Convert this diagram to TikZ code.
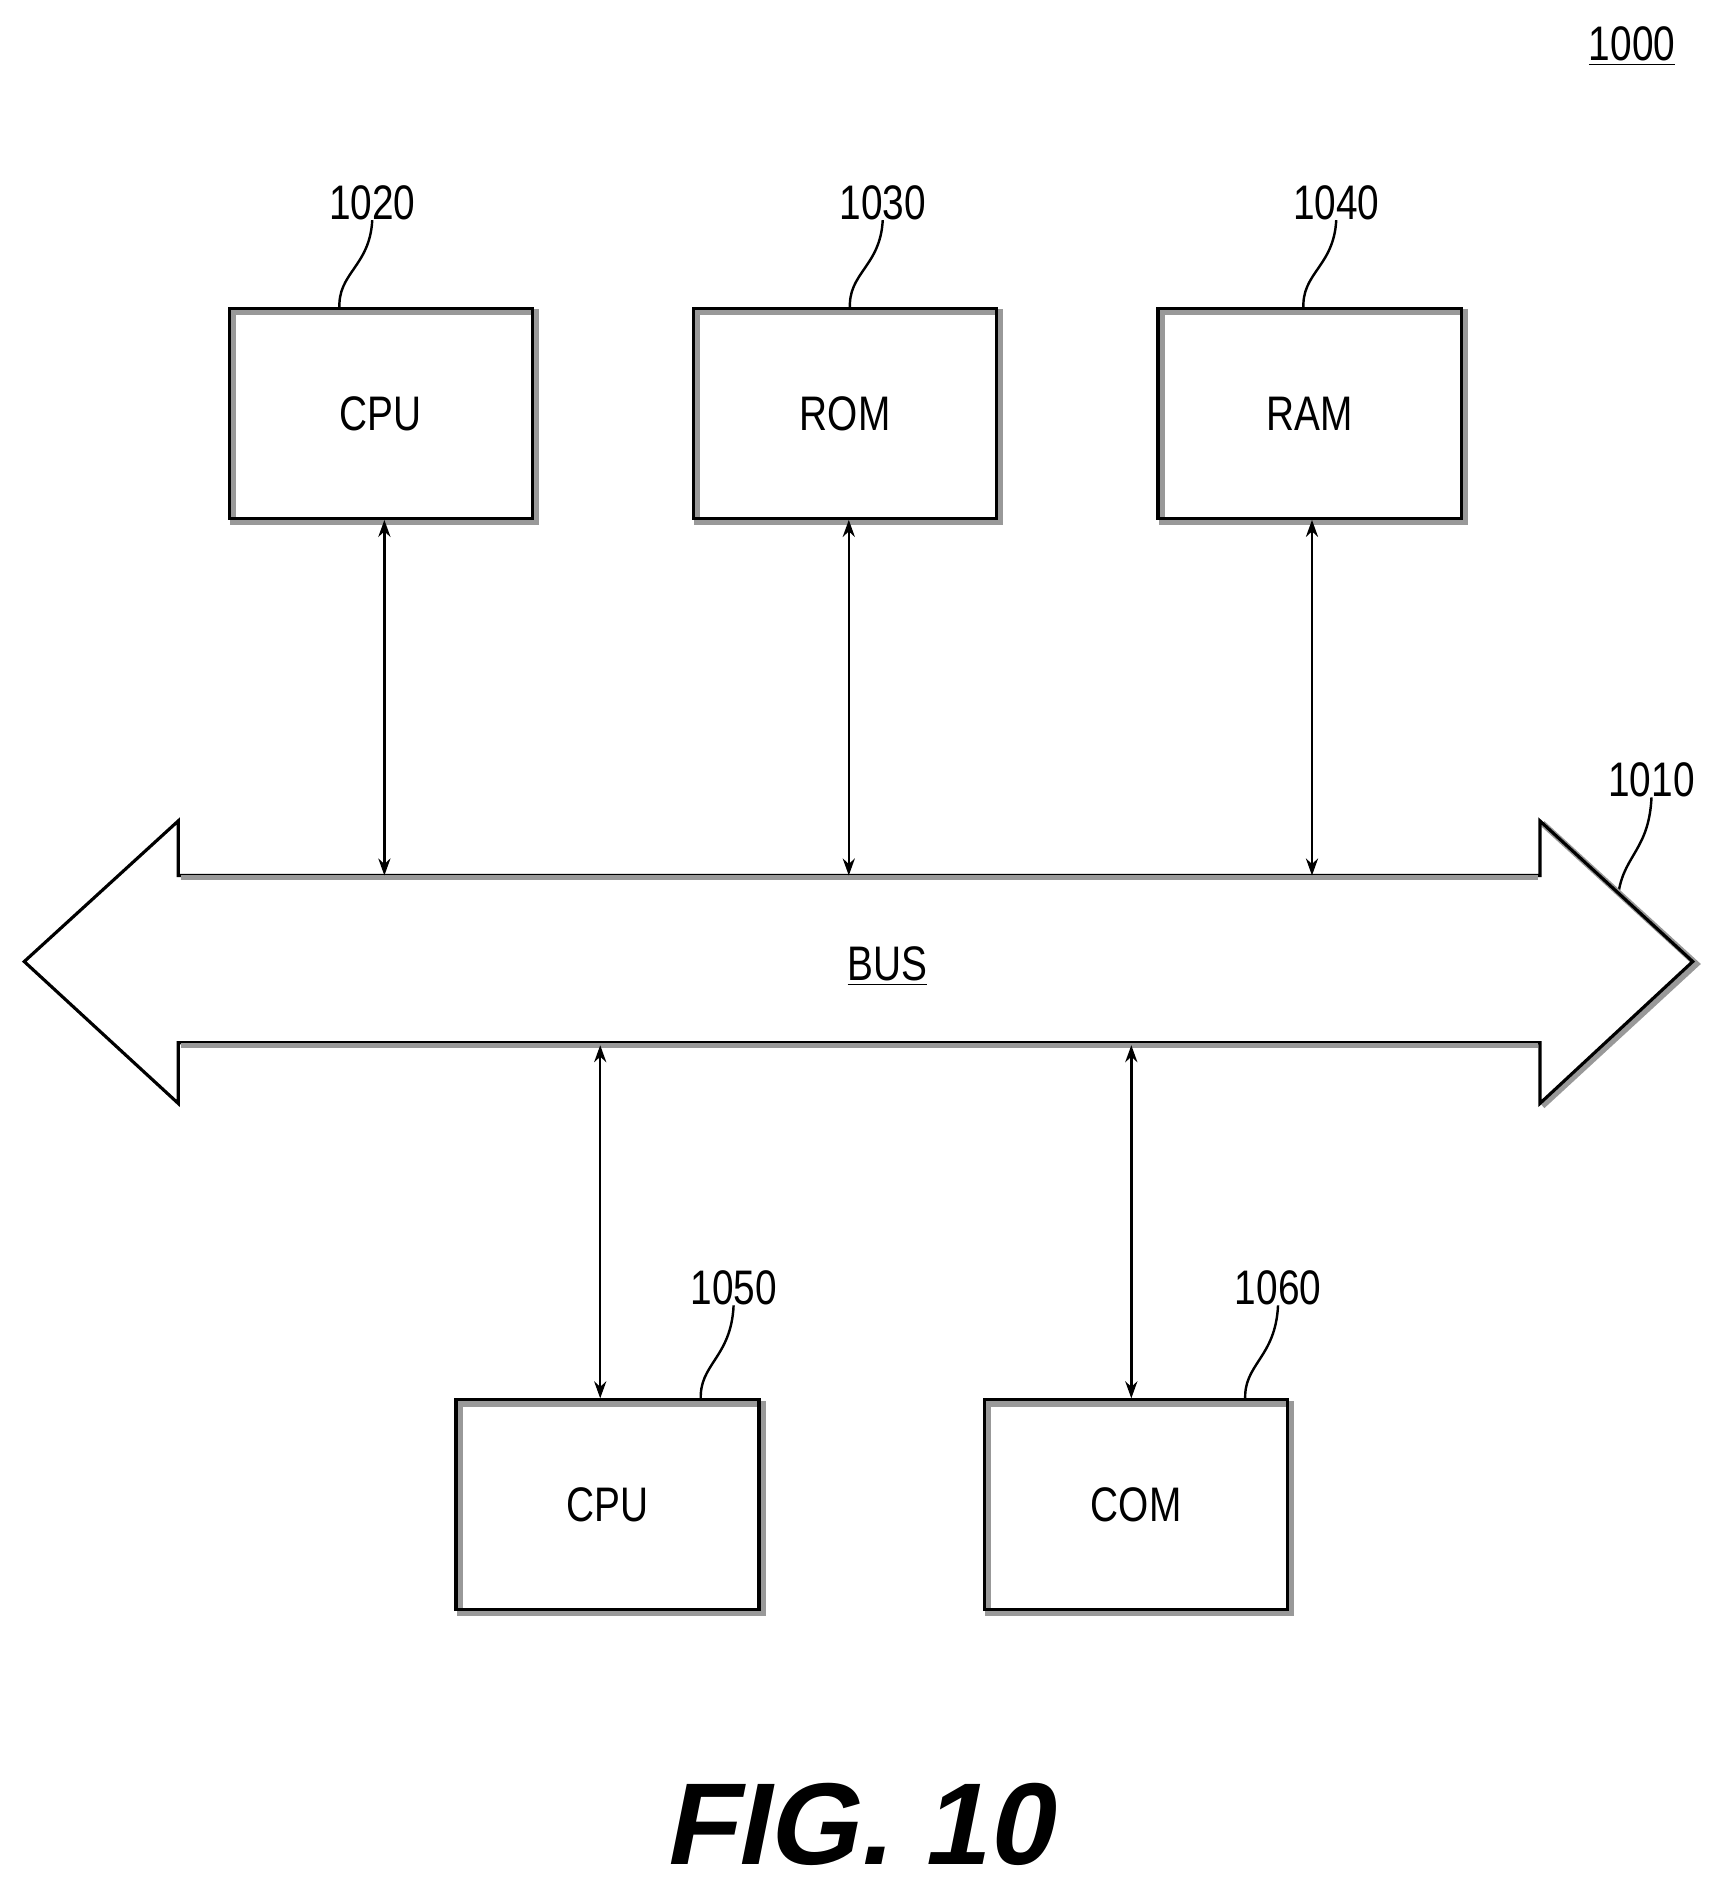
\documentclass[tikz,border=0pt]{standalone}
\usepackage{fontspec}
\setmainfont{Liberation Sans}[FakeStretch=0.8]
\newfontfamily\figfont{Liberation Sans}[FakeSlant=0.2]
\usetikzlibrary{arrows.meta}
\begin{document}
\begin{tikzpicture}[x=0.5pt,y=-0.5pt,
  box/.style={draw,line width=1.3pt,minimum width=125pt,minimum height=86.5pt,
    inner sep=0pt,font=\fontsize{20}{24}\selectfont,
    preaction={draw=gray!80,line width=2.5pt,transform canvas={shift={(1.5pt,-1.5pt)}}}},
  lbl/.style={font=\fontsize{20}{24}\selectfont,inner sep=0pt},
  lead/.style={line width=1pt},
  conn/.style={line width=1pt,{Stealth[length=7pt,width=5pt]}-{Stealth[length=7pt,width=5pt]}}]
\useasboundingbox (0,0) rectangle (1414,1562);
\node[lbl] (n1000) at (1346,38) {\underline{1000}};
\node[box] (cpu1) at (314,341) {CPU};
\node[box] (rom) at (697,341) {ROM};
\node[box] (ram) at (1080,341) {RAM};
\node[box] (cpu2) at (501,1241) {CPU};
\node[box] (com) at (937,1241) {COM};
\node[lbl] (l1020) at (307,167) {1020};
\node[lbl] (l1030) at (728,167) {1030};
\node[lbl] (l1040) at (1102,167) {1040};
\node[lbl] (l1050) at (605,1062) {1050};
\node[lbl] (l1060) at (1054,1062) {1060};
\node[lbl] (l1010) at (1362,643) {1010};
\draw[lead] (280,255) .. controls (278,225) and (305,220) .. (l1020.south);
\draw[lead] (701,255) .. controls (699,225) and (726,220) .. (l1030.south);
\draw[lead] (1075,255) .. controls (1073,225) and (1100,220) .. (l1040.south);
\draw[lead] (578,1155) .. controls (576,1125) and (603,1120) .. (l1050.south);
\draw[lead] (1027,1155) .. controls (1025,1125) and (1052,1120) .. (l1060.south);
\draw[lead] (1335,735) .. controls (1340,705) and (1360,700) .. (l1010.south);
% bus
\draw[gray!80,line width=2.5pt,line join=miter] (1272,679)--(1399,795)--(1272,912);
\draw[line width=1.3pt,line join=miter] (147,722) -- (1270,722) -- (1270,677) -- (1396,793) -- (1270,910) -- (1270,860) -- (147,860) -- (147,910) -- (20,793) -- (147,677) -- cycle;
\draw[gray!80,line width=2pt] (149,724)--(1268,724) (149,862)--(1268,862);
\node[lbl] (bus) at (732,797) {\underline{BUS}};
\coordinate (b1) at (317,722); \coordinate (b2) at (700,722); \coordinate (b3) at (1082,722);
\coordinate (b4) at (495,862); \coordinate (b5) at (933,862);
\draw[conn] (cpu1.south -| b1) -- (b1);
\draw[conn] (rom.south -| b2) -- (b2);
\draw[conn] (ram.south -| b3) -- (b3);
\draw[conn] (b4) -- (cpu2.north -| b4);
\draw[conn] (b5) -- (com.north -| b5);
\node[font=\figfont\bfseries\fontsize{48}{52}\selectfont,inner sep=0pt] (fig) at (707,1505) {FIG. 10};
\end{tikzpicture}
\end{document}
